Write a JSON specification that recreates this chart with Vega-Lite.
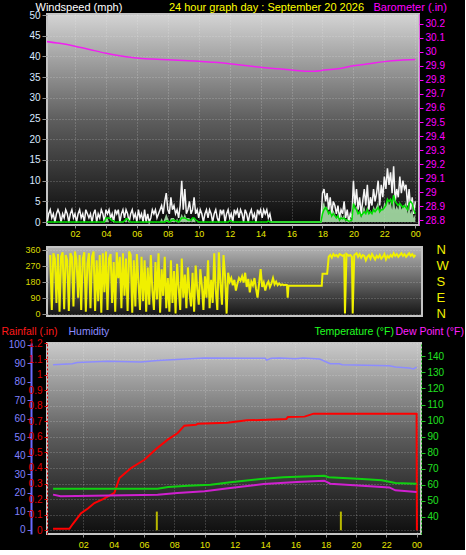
{
"$schema": "https://vega.github.io/schema/vega-lite/v6.json",
"background": "black",
"padding": 0,
"spacing": 3,
"config": {
 "view": {"stroke": "#c4c4c4", "strokeWidth": 2},
 "axis": {"labelFont": "Liberation Sans", "titleFont": "Liberation Sans", "labelFontSize": 10, "titleFontSize": 11, "titleFontWeight": "normal", "tickColor": "#909090", "tickSize": 4, "domain": false, "grid": false, "gridColor": "#f0f0f0", "gridOpacity": 0.35, "gridDash": [1, 2], "labelPadding": 2, "labelOverlap": false}
},
"datasets": {
 "wind": [
  {"t":0.0,"g":1,"s":0,"a":0},{"t":0.1,"g":2,"s":0,"a":0},{"t":0.2,"g":0,"s":0,"a":0},{"t":0.3,"g":2,"s":0,"a":0},{"t":0.4,"g":3,"s":0,"a":0},{"t":0.5,"g":1,"s":0,"a":0},{"t":0.6,"g":2,"s":0,"a":0},{"t":0.7,"g":0,"s":0,"a":0},{"t":0.8,"g":2,"s":0,"a":0},{"t":0.9,"g":3,"s":0,"a":0},
  {"t":1.0,"g":2,"s":0,"a":0},{"t":1.1,"g":0,"s":0,"a":0},{"t":1.2,"g":2,"s":0,"a":0},{"t":1.3,"g":1,"s":0,"a":0},{"t":1.4,"g":3,"s":0,"a":0},{"t":1.5,"g":2,"s":0,"a":0},{"t":1.6,"g":0,"s":0,"a":0},{"t":1.7,"g":2,"s":0,"a":0},{"t":1.8,"g":3,"s":0,"a":0},{"t":1.9,"g":1,"s":0,"a":0},
  {"t":2.0,"g":2,"s":0,"a":0},{"t":2.1,"g":0,"s":0,"a":0},{"t":2.2,"g":2,"s":0,"a":0},{"t":2.3,"g":3,"s":0,"a":0},{"t":2.4,"g":1,"s":0,"a":0},{"t":2.5,"g":2,"s":0,"a":0},{"t":2.6,"g":0,"s":0,"a":0},{"t":2.7,"g":3,"s":0,"a":0},{"t":2.8,"g":2,"s":0,"a":0},{"t":2.9,"g":1,"s":0,"a":0},
  {"t":3.0,"g":2,"s":0,"a":0},{"t":3.1,"g":0,"s":0,"a":0},{"t":3.2,"g":2,"s":0,"a":0},{"t":3.3,"g":3,"s":0,"a":0},{"t":3.4,"g":0,"s":0,"a":0},{"t":3.5,"g":2,"s":0,"a":0},{"t":3.6,"g":1,"s":0,"a":0},{"t":3.7,"g":3,"s":0,"a":0},{"t":3.8,"g":2,"s":0,"a":0},{"t":3.9,"g":0,"s":0,"a":0},
  {"t":4.0,"g":3,"s":1,"a":1},{"t":4.1,"g":2,"s":1,"a":1},{"t":4.2,"g":3,"s":0,"a":1},{"t":4.3,"g":1,"s":0,"a":0.8},{"t":4.4,"g":2,"s":0,"a":0.3},{"t":4.5,"g":0,"s":0,"a":0.3},{"t":4.6,"g":3,"s":0,"a":0},{"t":4.7,"g":2,"s":0,"a":0},{"t":4.8,"g":3,"s":0,"a":0},{"t":4.9,"g":0,"s":0,"a":0},
  {"t":5.0,"g":2,"s":0,"a":0},{"t":5.1,"g":3,"s":0,"a":0},{"t":5.2,"g":1,"s":0,"a":0.3},{"t":5.3,"g":3,"s":1,"a":0.8},{"t":5.4,"g":2,"s":0,"a":0.8},{"t":5.5,"g":0,"s":0,"a":0.3},{"t":5.6,"g":2,"s":0,"a":0},{"t":5.7,"g":3,"s":0,"a":0},{"t":5.8,"g":1,"s":0,"a":0},{"t":5.9,"g":2,"s":0,"a":0},
  {"t":6.0,"g":0,"s":0,"a":0},{"t":6.1,"g":3,"s":0,"a":0},{"t":6.2,"g":1,"s":0,"a":0},{"t":6.3,"g":2,"s":0,"a":0},{"t":6.4,"g":0,"s":0,"a":0},{"t":6.5,"g":3,"s":0,"a":0},{"t":6.6,"g":0,"s":0,"a":0},{"t":6.7,"g":2,"s":0,"a":0},{"t":6.8,"g":0,"s":0,"a":0},{"t":6.9,"g":1,"s":0,"a":0},
  {"t":7.0,"g":3,"s":0,"a":0},{"t":7.1,"g":2,"s":0,"a":0},{"t":7.2,"g":3,"s":0,"a":0},{"t":7.3,"g":1,"s":0,"a":0},{"t":7.4,"g":2,"s":0,"a":0},{"t":7.5,"g":3,"s":0,"a":0},{"t":7.6,"g":4,"s":1,"a":0},{"t":7.7,"g":2,"s":0,"a":0},{"t":7.8,"g":5,"s":1,"a":0},{"t":7.9,"g":7,"s":2,"a":0.3},
  {"t":8.0,"g":3,"s":1,"a":0.3},{"t":8.1,"g":2,"s":0,"a":0},{"t":8.2,"g":6,"s":1,"a":0.3},{"t":8.3,"g":3,"s":1,"a":0.5},{"t":8.4,"g":4,"s":1,"a":0.5},{"t":8.5,"g":2,"s":0,"a":0.3},{"t":8.6,"g":3,"s":1,"a":0.3},{"t":8.7,"g":1,"s":0,"a":0},{"t":8.8,"g":4,"s":1,"a":0.5},{"t":8.9,"g":10,"s":2,"a":1},
  {"t":9.0,"g":3,"s":1,"a":1},{"t":9.1,"g":8,"s":2,"a":1},{"t":9.2,"g":2,"s":1,"a":0.8},{"t":9.3,"g":3,"s":1,"a":0.5},{"t":9.4,"g":5,"s":1,"a":0.5},{"t":9.5,"g":2,"s":0,"a":0.5},{"t":9.6,"g":3,"s":1,"a":1},{"t":9.7,"g":6,"s":1,"a":1},{"t":9.8,"g":2,"s":0,"a":0.5},{"t":9.9,"g":3,"s":0,"a":0.3},
  {"t":10.0,"g":1,"s":0,"a":0},{"t":10.1,"g":3,"s":0,"a":0},{"t":10.2,"g":2,"s":0,"a":0},{"t":10.3,"g":0,"s":0,"a":0},{"t":10.4,"g":2,"s":0,"a":0},{"t":10.5,"g":3,"s":0,"a":0},{"t":10.6,"g":1,"s":0,"a":0},{"t":10.7,"g":3,"s":0,"a":0},{"t":10.8,"g":2,"s":0,"a":0},{"t":10.9,"g":0,"s":0,"a":0},
  {"t":11.0,"g":2,"s":0,"a":0},{"t":11.1,"g":3,"s":0,"a":0},{"t":11.2,"g":1,"s":0,"a":0},{"t":11.3,"g":0,"s":0,"a":0},{"t":11.4,"g":3,"s":0,"a":0},{"t":11.5,"g":2,"s":0,"a":0},{"t":11.6,"g":3,"s":0,"a":0},{"t":11.7,"g":0,"s":0,"a":0},{"t":11.8,"g":2,"s":0,"a":0},{"t":11.9,"g":3,"s":0,"a":0},
  {"t":12.0,"g":1,"s":0,"a":0.3},{"t":12.1,"g":2,"s":0,"a":0.3},{"t":12.2,"g":0,"s":0,"a":0},{"t":12.3,"g":3,"s":0,"a":0},{"t":12.4,"g":2,"s":0,"a":0},{"t":12.5,"g":3,"s":0,"a":0},{"t":12.6,"g":1,"s":0,"a":0},{"t":12.7,"g":3,"s":0,"a":0},{"t":12.8,"g":2,"s":0,"a":0},{"t":12.9,"g":0,"s":0,"a":0},
  {"t":13.0,"g":3,"s":0,"a":0},{"t":13.1,"g":2,"s":0,"a":0},{"t":13.2,"g":0,"s":0,"a":0},{"t":13.3,"g":2,"s":0,"a":0},{"t":13.4,"g":3,"s":0,"a":0},{"t":13.5,"g":1,"s":0,"a":0},{"t":13.6,"g":2,"s":0,"a":0},{"t":13.7,"g":0,"s":0,"a":0},{"t":13.8,"g":3,"s":0,"a":0},{"t":13.9,"g":2,"s":0,"a":0},
  {"t":14.0,"g":3,"s":0,"a":0},{"t":14.1,"g":1,"s":0,"a":0},{"t":14.2,"g":3,"s":0,"a":0},{"t":14.3,"g":2,"s":0,"a":0},{"t":14.4,"g":3,"s":0,"a":0},{"t":14.5,"g":1,"s":0,"a":0.3},{"t":14.6,"g":2,"s":0,"a":0},{"t":14.7,"g":0,"s":0,"a":0},
  {"t":17.9,"g":0,"s":0,"a":0},
  {"t":18.0,"g":7,"s":4,"a":2},{"t":18.1,"g":8,"s":5,"a":3},{"t":18.2,"g":5,"s":3,"a":3.5},{"t":18.3,"g":7,"s":4,"a":3},{"t":18.4,"g":3,"s":2,"a":2},{"t":18.5,"g":6,"s":3,"a":2.5},{"t":18.6,"g":2,"s":1,"a":1.5},{"t":18.7,"g":5,"s":3,"a":2},{"t":18.8,"g":4,"s":2,"a":1.5},{"t":18.9,"g":2,"s":1,"a":1},
  {"t":19.0,"g":4,"s":2,"a":1.5},{"t":19.1,"g":1,"s":0,"a":0.5},{"t":19.2,"g":3,"s":2,"a":1},{"t":19.3,"g":2,"s":1,"a":0.8},{"t":19.4,"g":5,"s":2,"a":1},{"t":19.5,"g":1,"s":0,"a":0.5},{"t":19.6,"g":3,"s":1,"a":0.5},{"t":19.7,"g":0,"s":0,"a":0.2},{"t":19.8,"g":2,"s":1,"a":0.3},{"t":19.9,"g":1,"s":0,"a":0.5},
  {"t":20.0,"g":10,"s":5,"a":4.5},{"t":20.1,"g":4,"s":3,"a":3.5},{"t":20.2,"g":8,"s":4,"a":3},{"t":20.3,"g":3,"s":2,"a":2},{"t":20.4,"g":6,"s":3,"a":2.5},{"t":20.5,"g":2,"s":1,"a":1.5},{"t":20.6,"g":5,"s":3,"a":2},{"t":20.7,"g":8,"s":4,"a":2.5},{"t":20.8,"g":4,"s":2,"a":2},{"t":20.9,"g":9,"s":4,"a":3},
  {"t":21.0,"g":3,"s":2,"a":2},{"t":21.1,"g":6,"s":3,"a":2.5},{"t":21.2,"g":4,"s":2,"a":2},{"t":21.3,"g":8,"s":4,"a":3},{"t":21.4,"g":5,"s":3,"a":2.5},{"t":21.5,"g":7,"s":4,"a":3},{"t":21.6,"g":10,"s":5,"a":3.5},{"t":21.7,"g":4,"s":2,"a":2.5},{"t":21.8,"g":9,"s":4,"a":3},{"t":21.9,"g":6,"s":3,"a":3},
  {"t":22.0,"g":11,"s":5,"a":3.5},{"t":22.1,"g":8,"s":4,"a":4},{"t":22.2,"g":13,"s":6,"a":5.5},{"t":22.3,"g":9,"s":4,"a":5},{"t":22.4,"g":12,"s":5,"a":5.5},{"t":22.5,"g":7,"s":3,"a":4.5},{"t":22.6,"g":13.5,"s":6,"a":6.5},{"t":22.7,"g":5,"s":3,"a":5},{"t":22.8,"g":8,"s":4,"a":4.5},{"t":22.9,"g":6,"s":3,"a":4},
  {"t":23.0,"g":11,"s":5,"a":4.5},{"t":23.1,"g":7,"s":3,"a":4},{"t":23.2,"g":10,"s":4,"a":3.5},{"t":23.3,"g":8,"s":4,"a":4},{"t":23.4,"g":9,"s":5,"a":3.5},{"t":23.5,"g":4,"s":2,"a":3},{"t":23.6,"g":8,"s":4,"a":4.5},{"t":23.7,"g":3,"s":2,"a":5},{"t":23.8,"g":6,"s":3,"a":4.5},{"t":23.9,"g":2,"s":1,"a":3},
  {"t":24.0,"g":5,"s":2,"a":2}
 ],
 "baro": [
  {"t":0,"p":30.075},{"t":1,"p":30.06},{"t":2,"p":30.04},{"t":3,"p":30.015},{"t":4,"p":29.99},{"t":5,"p":29.97},{"t":6,"p":29.955},{"t":7,"p":29.948},{"t":8,"p":29.943},{"t":9,"p":29.938},{"t":10,"p":29.932},{"t":11,"p":29.925},{"t":12,"p":29.915},{"t":13,"p":29.903},{"t":14,"p":29.89},{"t":15,"p":29.88},{"t":16,"p":29.87},{"t":17,"p":29.862},{"t":17.5,"p":29.862},{"t":18,"p":29.868},{"t":19,"p":29.88},{"t":20,"p":29.9},{"t":21,"p":29.915},{"t":22,"p":29.93},{"t":23,"p":29.94},{"t":24,"p":29.945}
 ],
 "dir": [
  {"t":0.4,"d":330},{"t":0.5,"d":20},{"t":0.6,"d":340},{"t":0.7,"d":310},{"t":0.8,"d":60},{"t":0.9,"d":335},{"t":1.0,"d":10},{"t":1.1,"d":320},{"t":1.2,"d":345},{"t":1.3,"d":25},{"t":1.4,"d":330},{"t":1.5,"d":300},{"t":1.6,"d":15},{"t":1.7,"d":340},{"t":1.8,"d":320},{"t":1.9,"d":40},
  {"t":2.0,"d":350},{"t":2.1,"d":300},{"t":2.2,"d":90},{"t":2.3,"d":330},{"t":2.4,"d":20},{"t":2.5,"d":310},{"t":2.6,"d":345},{"t":2.7,"d":10},{"t":2.8,"d":280},{"t":2.9,"d":340},{"t":3.0,"d":30},{"t":3.1,"d":320},{"t":3.2,"d":350},{"t":3.3,"d":15},{"t":3.4,"d":300},{"t":3.5,"d":70},{"t":3.6,"d":330},{"t":3.7,"d":5},{"t":3.8,"d":340},{"t":3.9,"d":120},
  {"t":4.0,"d":350},{"t":4.1,"d":20},{"t":4.2,"d":310},{"t":4.3,"d":335},{"t":4.4,"d":60},{"t":4.5,"d":290},{"t":4.6,"d":10},{"t":4.7,"d":345},{"t":4.8,"d":200},{"t":4.9,"d":320},{"t":5.0,"d":30},{"t":5.1,"d":340},{"t":5.2,"d":100},{"t":5.3,"d":310},{"t":5.4,"d":15},{"t":5.5,"d":350},{"t":5.6,"d":330},{"t":5.7,"d":5},{"t":5.8,"d":300},{"t":5.9,"d":40},
  {"t":6.0,"d":335},{"t":6.1,"d":180},{"t":6.2,"d":20},{"t":6.3,"d":320},{"t":6.4,"d":70},{"t":6.5,"d":300},{"t":6.6,"d":10},{"t":6.7,"d":260},{"t":6.8,"d":50},{"t":6.9,"d":330},{"t":7.0,"d":130},{"t":7.1,"d":20},{"t":7.2,"d":290},{"t":7.3,"d":80},{"t":7.4,"d":340},{"t":7.5,"d":5},{"t":7.6,"d":250},{"t":7.7,"d":100},{"t":7.8,"d":320},{"t":7.9,"d":30},
  {"t":8.0,"d":200},{"t":8.1,"d":10},{"t":8.2,"d":300},{"t":8.3,"d":60},{"t":8.4,"d":240},{"t":8.5,"d":0},{"t":8.6,"d":280},{"t":8.7,"d":150},{"t":8.8,"d":20},{"t":8.9,"d":310},{"t":9.0,"d":90},{"t":9.1,"d":220},{"t":9.2,"d":30},{"t":9.3,"d":260},{"t":9.4,"d":120},{"t":9.5,"d":40},{"t":9.6,"d":230},{"t":9.7,"d":10},{"t":9.8,"d":270},{"t":9.9,"d":140},
  {"t":10.0,"d":50},{"t":10.1,"d":250},{"t":10.2,"d":160},{"t":10.3,"d":20},{"t":10.4,"d":210},{"t":10.5,"d":90},{"t":10.6,"d":300},{"t":10.7,"d":30},{"t":10.8,"d":190},{"t":10.9,"d":60},{"t":11.0,"d":340},{"t":11.1,"d":130},{"t":11.2,"d":20},{"t":11.3,"d":345},{"t":11.4,"d":170},{"t":11.5,"d":50},{"t":11.6,"d":330},{"t":11.7,"d":210},{"t":11.8,"d":0},{"t":11.9,"d":230},
  {"t":12.0,"d":180},{"t":12.1,"d":200},{"t":12.2,"d":160},{"t":12.3,"d":190},{"t":12.4,"d":130},{"t":12.5,"d":170},{"t":12.6,"d":200},{"t":12.7,"d":185},{"t":12.8,"d":210},{"t":12.9,"d":175},{"t":13.0,"d":230},{"t":13.1,"d":150},{"t":13.2,"d":195},{"t":13.3,"d":120},{"t":13.4,"d":180},{"t":13.5,"d":160},{"t":13.6,"d":200},{"t":13.7,"d":140},{"t":13.8,"d":90},{"t":13.9,"d":170},
  {"t":14.0,"d":250},{"t":14.1,"d":150},{"t":14.2,"d":175},{"t":14.3,"d":130},{"t":14.4,"d":165},{"t":14.5,"d":180},{"t":14.6,"d":150},{"t":14.7,"d":170},{"t":14.8,"d":200},{"t":14.9,"d":165},{"t":15.0,"d":180},{"t":15.1,"d":160},{"t":15.2,"d":170},{"t":15.3,"d":160},{"t":15.4,"d":165},{"t":15.5,"d":160},{"t":15.6,"d":162},{"t":15.7,"d":160},{"t":15.75,"d":90},{"t":15.8,"d":157},
  {"t":17.95,"d":157},{"t":18.0,"d":225},{"t":18.3,"d":225},{"t":18.4,"d":320},{"t":18.5,"d":330},{"t":18.6,"d":315},{"t":18.7,"d":335},{"t":18.8,"d":325},{"t":18.9,"d":330},{"t":19.0,"d":320},{"t":19.1,"d":335},{"t":19.2,"d":330},{"t":19.3,"d":325},{"t":19.4,"d":330},{"t":19.45,"d":0},{"t":19.55,"d":335},{"t":19.7,"d":325},{"t":19.8,"d":330},{"t":19.9,"d":320},{"t":19.95,"d":0},
  {"t":20.05,"d":330},{"t":20.2,"d":340},{"t":20.3,"d":320},{"t":20.4,"d":335},{"t":20.5,"d":315},{"t":20.6,"d":330},{"t":20.7,"d":325},{"t":20.8,"d":300},{"t":20.9,"d":320},{"t":21.0,"d":330},{"t":21.1,"d":310},{"t":21.2,"d":335},{"t":21.3,"d":320},{"t":21.4,"d":305},{"t":21.5,"d":325},{"t":21.6,"d":315},{"t":21.7,"d":330},{"t":21.8,"d":310},{"t":21.9,"d":320},
  {"t":22.0,"d":335},{"t":22.1,"d":305},{"t":22.2,"d":325},{"t":22.3,"d":315},{"t":22.4,"d":330},{"t":22.5,"d":320},{"t":22.6,"d":340},{"t":22.7,"d":325},{"t":22.8,"d":335},{"t":22.9,"d":320},{"t":23.0,"d":330},{"t":23.1,"d":340},{"t":23.2,"d":325},{"t":23.3,"d":335},{"t":23.4,"d":320},{"t":23.5,"d":330},{"t":23.6,"d":340},{"t":23.7,"d":325},{"t":23.8,"d":335},{"t":23.9,"d":320},{"t":24.0,"d":330}
 ],
 "rain": [
  {"t":0.0,"r":0.01,"o":1},{"t":1.08,"r":0.01,"o":2},{"t":1.3,"r":0.04,"o":3},{"t":1.85,"r":0.11,"o":4},{"t":2.3,"r":0.14,"o":5},{"t":2.73,"r":0.175,"o":6},{"t":3.3,"r":0.2,"o":7},{"t":4.05,"r":0.24,"o":8},{"t":4.38,"r":0.336,"o":9},{"t":5.15,"r":0.4,"o":10},{"t":6.03,"r":0.453,"o":11},{"t":6.8,"r":0.522,"o":12},{"t":7.57,"r":0.582,"o":13},{"t":8.23,"r":0.625,"o":14},{"t":8.67,"r":0.672,"o":15},{"t":9.44,"r":0.678,"o":16},{"t":9.55,"r":0.685,"o":17},{"t":11.5,"r":0.69,"o":18},{"t":12.8,"r":0.706,"o":19},{"t":14.1,"r":0.71,"o":20},{"t":15.4,"r":0.715,"o":21},{"t":15.5,"r":0.727,"o":22},{"t":16.6,"r":0.73,"o":23},{"t":17.2,"r":0.749,"o":24},{"t":24.0,"r":0.749,"o":25},{"t":24.02,"r":0.0,"o":26}
 ],
 "rate": [{"t":6.85,"r":0,"r2":0.12},{"t":19.0,"r":0,"r2":0.12}],
 "hum": [
  {"t":0.0,"h":89.2},{"t":1.27,"h":89.7},{"t":1.6,"h":90.4},{"t":3.6,"h":91.0},{"t":5.8,"h":90.6},{"t":6.9,"h":91.4},{"t":10.0,"h":92.8},{"t":14.0,"h":92.6},{"t":14.1,"h":91.6},{"t":14.4,"h":92.6},{"t":15.0,"h":92.8},{"t":16.0,"h":92.4},{"t":16.5,"h":92.8},{"t":17.6,"h":92.2},{"t":18.3,"h":89.7},{"t":18.9,"h":89.7},{"t":19.1,"h":89.2},{"t":22.2,"h":88.6},{"t":22.6,"h":87.9},{"t":23.5,"h":87.4},{"t":23.8,"h":86.9},{"t":24.0,"h":87.9}
 ],
 "temp": [
  {"t":0.0,"v":57.6},{"t":6.9,"v":57.6},{"t":7.6,"v":58.7},{"t":8.9,"v":59.5},{"t":10.4,"v":60.1},{"t":11.7,"v":61.6},{"t":13.7,"v":63.6},{"t":15.2,"v":64.7},{"t":17.9,"v":65.7},{"t":18.2,"v":64.7},{"t":20.4,"v":63.6},{"t":21.7,"v":62.8},{"t":22.6,"v":61.2},{"t":24.0,"v":60.7}
 ],
 "dew": [
  {"t":0.0,"v":53.9},{"t":0.5,"v":52.9},{"t":6.9,"v":53.9},{"t":8.2,"v":54.9},{"t":10.0,"v":56.0},{"t":11.7,"v":58.0},{"t":13.9,"v":60.5},{"t":16.1,"v":61.8},{"t":17.9,"v":62.6},{"t":18.3,"v":60.7},{"t":20.4,"v":59.5},{"t":22.2,"v":58.4},{"t":22.6,"v":56.6},{"t":24.0,"v":55.5}
 ]
},
"vconcat": [
 {
  "width": 372, "height": 211,
  "view": {"fill": {"gradient": "linear", "x1": 0, "y1": 0, "x2": 0, "y2": 1, "stops": [{"offset": 0, "color": "#d4d4d4"}, {"offset": 0.5, "color": "#5e5e5e"}, {"offset": 1, "color": "#0a0a0a"}]}},
  "layer": [
   {
    "data": {"name": "wind"},
    "layer": [
     {"mark": {"type": "line", "color": "#f4f4f4", "strokeWidth": 1.5, "clip": true},
      "encoding": {
       "x": {"field": "t", "type": "quantitative", "scale": {"domain": [0.19, 24.24], "nice": false, "zero": false},
             "axis": {"values": [2,4,6,8,10,12,14,16,18,20,22,24], "labelExpr": "datum.value == 24 ? '00' : (datum.value < 10 ? '0' + datum.value : '' + datum.value)", "labelColor": "#e8e800", "labelFontSize": 9, "grid": true, "title": null, "tickSize": 3, "labelPadding": 1}},
       "y": {"field": "g", "type": "quantitative", "scale": {"domain": [-0.7, 50.25], "nice": false, "zero": false},
             "axis": {"orient": "left", "values": [0,5,10,15,20,25,30,35,40,45,50], "labelColor": "#d8e8ff", "grid": true, "tickSize": 5, "title": "Windspeed (mph)", "titleColor": "#ffffff", "titleAngle": 0, "titleAlign": "left", "titleBaseline": "alphabetic", "titleX": -12, "titleY": -4}}
      }},
     {"mark": {"type": "area", "color": "#b0ecb0", "opacity": 0.85, "clip": true},
      "encoding": {
       "x": {"field": "t", "type": "quantitative", "axis": {"values": [2,4,6,8,10,12,14,16,18,20,22,24], "labelExpr": "datum.value == 24 ? '00' : (datum.value < 10 ? '0' + datum.value : '' + datum.value)", "labelColor": "#e8e800", "labelFontSize": 9, "grid": true, "title": null, "tickSize": 3, "labelPadding": 1}},
       "y": {"field": "s", "type": "quantitative", "axis": {"orient": "left", "values": [0,5,10,15,20,25,30,35,40,45,50], "labelColor": "#d8e8ff", "grid": true, "tickSize": 5, "title": "Windspeed (mph)", "titleColor": "#ffffff", "titleAngle": 0, "titleAlign": "left", "titleBaseline": "alphabetic", "titleX": -12, "titleY": -4}}}},
     {"mark": {"type": "line", "color": "#00e000", "strokeWidth": 1.5, "clip": true},
      "encoding": {
       "x": {"field": "t", "type": "quantitative", "axis": {"values": [2,4,6,8,10,12,14,16,18,20,22,24], "labelExpr": "datum.value == 24 ? '00' : (datum.value < 10 ? '0' + datum.value : '' + datum.value)", "labelColor": "#e8e800", "labelFontSize": 9, "grid": true, "title": null, "tickSize": 3, "labelPadding": 1}},
       "y": {"field": "a", "type": "quantitative", "axis": {"orient": "left", "values": [0,5,10,15,20,25,30,35,40,45,50], "labelColor": "#d8e8ff", "grid": true, "tickSize": 5, "title": "Windspeed (mph)", "titleColor": "#ffffff", "titleAngle": 0, "titleAlign": "left", "titleBaseline": "alphabetic", "titleX": -12, "titleY": -4}}}}
    ]
   },
   {
    "data": {"name": "baro"},
    "mark": {"type": "line", "color": "#f020f0", "strokeWidth": 1.5, "clip": true, "interpolate": "monotone"},
    "encoding": {
     "x": {"field": "t", "type": "quantitative", "axis": {"orient": "top", "labels": false, "ticks": false, "domain": false, "grid": false, "title": "24 hour graph day : September 20 2026", "titleColor": "#ffff00", "titleAlign": "center", "titleBaseline": "alphabetic", "titleX": 219, "titleY": -4}},
     "y": {"field": "p", "type": "quantitative", "scale": {"domain": [28.767, 30.269], "nice": false, "zero": false},
           "axis": {"orient": "right", "values": [28.8,28.9,29,29.1,29.2,29.3,29.4,29.5,29.6,29.7,29.8,29.9,30,30.1,30.2], "format": "~g", "labelColor": "#ff00ff", "tickColor": "#ff00ff", "domain": true, "domainColor": "#ff00ff", "domainDash": [1,1], "tickSize": 4, "title": "Barometer (.in)", "titleColor": "#ff00ff", "titleAngle": 0, "titleAlign": "left", "titleBaseline": "alphabetic", "titleX": -46, "titleY": -4}}
    }
   }
  ],
  "resolve": {"scale": {"y": "independent"}, "axis": {"x": "independent"}}
 },
 {
  "width": 375, "height": 69,
  "view": {"fill": {"gradient": "linear", "x1": 0, "y1": 0, "x2": 0, "y2": 1, "stops": [{"offset": 0, "color": "#b4b4b4"}, {"offset": 1, "color": "#141414"}]}},
  "data": {"name": "dir"},
  "layer": [
   {"mark": {"type": "line", "color": "#f0f000", "strokeWidth": 2, "clip": true},
    "encoding": {
     "x": {"field": "t", "type": "quantitative", "scale": {"domain": [0.19, 24.43], "nice": false, "zero": false}, "axis": null},
     "y": {"field": "d", "type": "quantitative", "scale": {"domain": [-13.6, 375], "nice": false, "zero": false},
           "axis": {"orient": "left", "values": [0,90,180,270,360], "labelColor": "#d8d800", "labelFontSize": 9, "grid": true, "tickSize": 5, "title": null}}
    }},
   {"mark": {"type": "line", "strokeOpacity": 0, "clip": true},
    "encoding": {
     "x": {"field": "t", "type": "quantitative", "axis": null},
     "y": {"field": "d", "type": "quantitative",
           "axis": {"orient": "right", "values": [0,90,180,270,360], "labelExpr": "datum.value == 90 ? 'E' : datum.value == 180 ? 'S' : datum.value == 270 ? 'W' : 'N'", "labelColor": "#f0f000", "labelFontSize": 13, "ticks": false, "labelPadding": 14, "grid": false, "title": null}}
    }}
  ],
  "resolve": {"axis": {"y": "independent"}}
 },
 {
  "width": 374, "height": 191,
  "view": {"fill": {"gradient": "linear", "x1": 0, "y1": 0, "x2": 0, "y2": 1, "stops": [{"offset": 0, "color": "#cacaca"}, {"offset": 0.5, "color": "#5a5a5a"}, {"offset": 1, "color": "#0e0e0e"}]}},
  "layer": [
   {
    "data": {"name": "hum"},
    "mark": {"type": "line", "color": "#8c8cff", "strokeWidth": 1.5, "clip": true},
    "encoding": {
     "x": {"field": "t", "type": "quantitative", "scale": {"domain": [-0.4, 24.29], "nice": false, "zero": false},
           "axis": {"values": [2,4,6,8,10,12,14,16,18,20,22,24], "labelExpr": "datum.value == 24 ? '00' : (datum.value < 10 ? '0' + datum.value : '' + datum.value)", "labelColor": "#e8e800", "labelFontSize": 9, "grid": true, "title": null, "tickSize": 3, "labelPadding": 3}},
     "y": {"field": "h", "type": "quantitative", "scale": {"domain": [-2.3, 100.9], "nice": false, "zero": false},
           "axis": {"orient": "left", "offset": 16, "values": [0,10,20,30,40,50,60,70,80,90,100], "labelColor": "#8080ff", "domain": true, "domainColor": "#6a6aff", "domainWidth": 2, "tickColor": "#6a6aff", "tickSize": 4, "title": "Humidity", "titleColor": "#8c8cff", "titleFontSize": 10.5, "titleAngle": 0, "titleAlign": "left", "titleBaseline": "alphabetic", "titleX": 37, "titleY": -9}}
    }
   },
   {
    "layer": [
     {"data": {"name": "rain"},
      "mark": {"type": "line", "color": "#ff0000", "strokeWidth": 2, "clip": true},
      "encoding": {
       "x": {"field": "t", "type": "quantitative", "axis": {"values": [2,4,6,8,10,12,14,16,18,20,22,24], "labelExpr": "datum.value == 24 ? '00' : (datum.value < 10 ? '0' + datum.value : '' + datum.value)", "labelColor": "#e8e800", "labelFontSize": 9, "grid": true, "title": null, "tickSize": 3, "labelPadding": 3}},
       "order": {"field": "o"},
       "y": {"field": "r", "type": "quantitative", "scale": {"domain": [-0.024, 1.203], "nice": false, "zero": false},
             "axis": {"orient": "left", "values": [0,0.1,0.2,0.3,0.4,0.5,0.6,0.7,0.8,0.9,1,1.1,1.2], "format": "~g", "labelColor": "#e00000", "domain": true, "domainColor": "#e00000", "domainDash": [2,2], "tickColor": "#e00000", "tickSize": 3, "grid": true, "title": "Rainfall (.in)", "titleColor": "#ff1a1a", "titleFontSize": 10.5, "titleAngle": 0, "titleAlign": "left", "titleBaseline": "alphabetic", "titleX": -46, "titleY": -9}}
      }},
     {"data": {"name": "rate"},
      "mark": {"type": "rule", "color": "#b8b800", "strokeWidth": 2},
      "encoding": {
       "x": {"field": "t", "type": "quantitative", "axis": {"values": [2,4,6,8,10,12,14,16,18,20,22,24], "labelExpr": "datum.value == 24 ? '00' : (datum.value < 10 ? '0' + datum.value : '' + datum.value)", "labelColor": "#e8e800", "labelFontSize": 9, "grid": true, "title": null, "tickSize": 3, "labelPadding": 3}},
       "y": {"field": "r", "type": "quantitative", "axis": {"orient": "left", "values": [0,0.1,0.2,0.3,0.4,0.5,0.6,0.7,0.8,0.9,1,1.1,1.2], "format": "~g", "labelColor": "#e00000", "domain": true, "domainColor": "#e00000", "domainDash": [2,2], "tickColor": "#e00000", "tickSize": 3, "grid": true, "title": "Rainfall (.in)", "titleColor": "#ff1a1a", "titleFontSize": 10.5, "titleAngle": 0, "titleAlign": "left", "titleBaseline": "alphabetic", "titleX": -46, "titleY": -9}},
       "y2": {"field": "r2"}}}
    ]
   },
   {
    "data": {"name": "temp"},
    "mark": {"type": "line", "color": "#10d010", "strokeWidth": 2, "clip": true},
    "encoding": {
     "x": {"field": "t", "type": "quantitative", "axis": {"values": [2,4,6,8,10,12,14,16,18,20,22,24], "labelExpr": "datum.value == 24 ? '00' : (datum.value < 10 ? '0' + datum.value : '' + datum.value)", "labelColor": "#e8e800", "labelFontSize": 9, "grid": true, "title": null, "tickSize": 3, "labelPadding": 3}},
     "y": {"field": "v", "type": "quantitative", "scale": {"domain": [29.4, 148.3], "nice": false, "zero": false},
           "axis": {"orient": "right", "values": [40,50,60,70,80,90,100,110,120,130,140], "labelColor": "#20e020", "domain": true, "domainColor": "#20c020", "domainDash": [2,2], "tickColor": "#20c020", "tickSize": 4, "title": "Temperature (°F)", "titleColor": "#20ff20", "titleFontSize": 10.5, "titleAngle": 0, "titleAlign": "left", "titleBaseline": "alphabetic", "titleX": -107, "titleY": -9}}
    }
   },
   {
    "data": {"name": "dew"},
    "mark": {"type": "line", "color": "#d020d0", "strokeWidth": 2, "clip": true},
    "encoding": {
     "x": {"field": "t", "type": "quantitative", "axis": {"values": [2,4,6,8,10,12,14,16,18,20,22,24], "labelExpr": "datum.value == 24 ? '00' : (datum.value < 10 ? '0' + datum.value : '' + datum.value)", "labelColor": "#e8e800", "labelFontSize": 9, "grid": true, "title": null, "tickSize": 3, "labelPadding": 3}},
     "y": {"field": "v", "type": "quantitative", "scale": {"domain": [29.4, 148.3], "nice": false, "zero": false},
           "axis": {"orient": "right", "labels": false, "ticks": false, "domain": false, "grid": false, "title": "Dew Point (°F)", "titleColor": "#ff20ff", "titleFontSize": 10.5, "titleAngle": 0, "titleAlign": "left", "titleBaseline": "alphabetic", "titleX": -26, "titleY": -9}}
    }
   }
  ],
  "resolve": {"scale": {"y": "independent"}}
 }
]
}
